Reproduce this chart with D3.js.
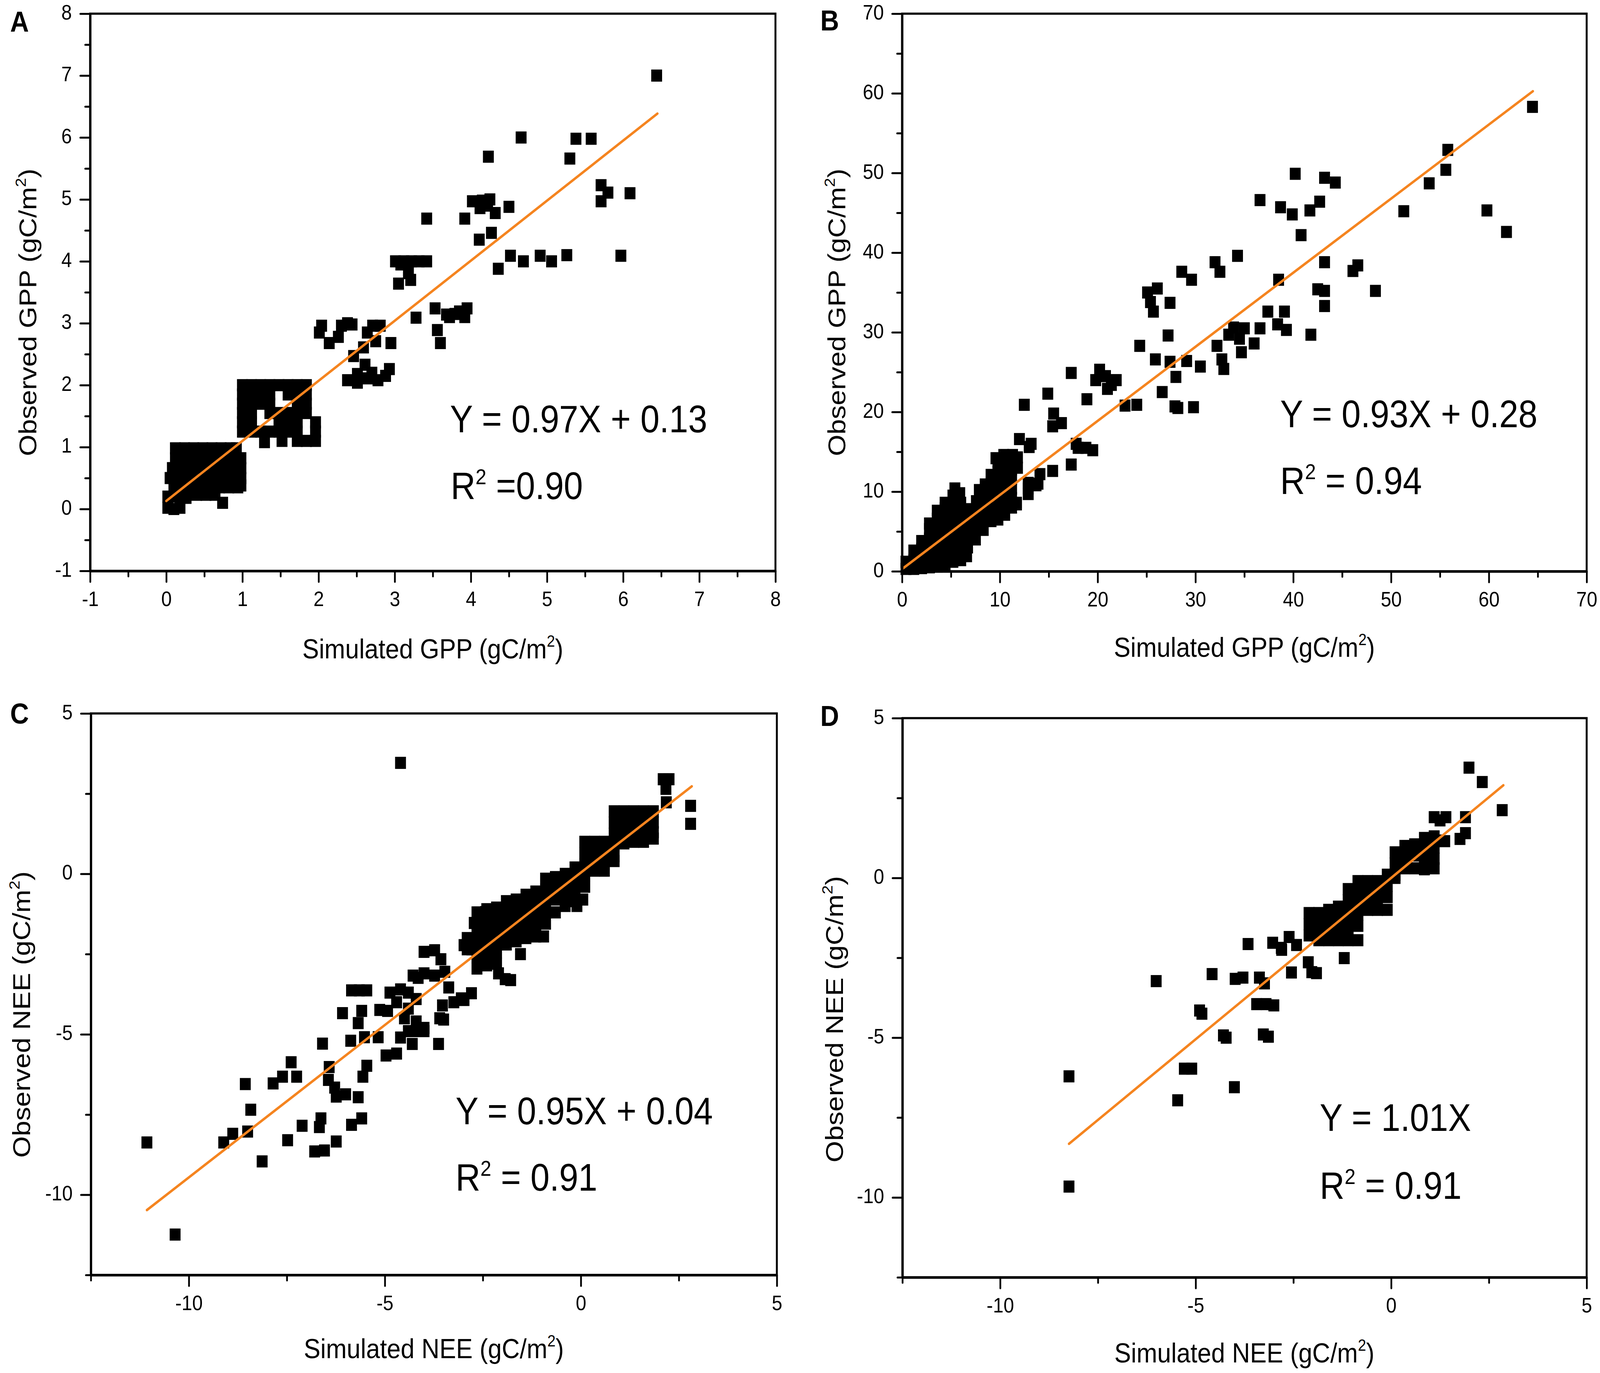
<!DOCTYPE html>
<html>
<head>
<meta charset="utf-8">
<script src="https://cdn.jsdelivr.net/npm/d3@7"></script>
<style>
  html, body { margin: 0; padding: 0; background: #fff; overflow: hidden; }
  svg { display: block; }
</style>
</head>
<body>
<div id="chart"></div>
<script>
// ---------- data ----------

// panel A: simulated vs observed GPP, site 1
var gppA_points = [
  [6.44,7.0],[4.66,6.0],[5.38,5.98],[5.58,5.98],[4.23,5.69],[5.30,5.66],[5.71,5.23],[5.80,5.11],[5.71,4.97],[6.09,5.10],
  [5.97,4.09],[5.26,4.10],[5.06,4.0],[4.91,4.09],[4.69,4.0],[4.52,4.09],[4.36,3.88],[4.50,4.88],[4.27,4.46],[4.11,4.35],
  [3.92,4.69],[3.42,4.69],[4.02,4.97],[4.15,4.98],[4.22,4.90],[4.32,4.78],[4.12,4.86],[4.25,5.0],
  [3.01,4.0],[3.12,4.0],[3.22,4.0],[3.32,4.0],[3.42,4.0],[3.08,3.95],[3.18,3.81],[3.21,3.70],[3.05,3.64],[3.28,3.09],
  [3.53,3.24],[3.56,2.89],[3.60,2.68],[3.72,3.10],[3.85,3.19],[3.95,3.24],[3.92,3.10],[3.79,3.15],[3.68,3.14],
  [2.04,2.96],[2.01,2.85],[2.14,2.68],[2.26,2.78],[2.30,2.96],[2.44,2.98],[2.64,2.85],[2.71,2.96],[2.81,2.96],
  [2.75,2.71],[2.95,2.68],[2.59,2.61],[2.46,2.47],[2.38,3.0],
  [2.38,2.08],[2.51,2.18],[2.61,2.33],[2.64,2.11],[2.78,2.08],[2.88,2.15],[2.93,2.26],[2.51,2.04],[2.70,2.20],
  [1.0,2.0],[1.12,2.0],[1.24,2.0],[1.36,2.0],[1.48,2.0],[1.6,2.0],[1.72,2.0],[1.84,2.0],
  [1.0,1.85],[1.12,1.85],[1.24,1.85],[1.36,1.85],[1.6,1.85],[1.72,1.85],[1.84,1.85],
  [1.0,1.7],[1.12,1.7],[1.24,1.7],[1.36,1.7],[1.72,1.7],[1.84,1.7],
  [1.0,1.55],[1.12,1.55],[1.36,1.55],[1.48,1.55],[1.6,1.55],[1.72,1.55],[1.84,1.55],
  [1.0,1.4],[1.12,1.4],[1.48,1.4],[1.6,1.4],[1.72,1.4],[1.96,1.4],
  [1.0,1.25],[1.12,1.25],[1.24,1.25],[1.36,1.25],[1.48,1.25],[1.6,1.25],[1.72,1.25],[1.96,1.25],
  [1.29,1.08],[1.52,1.1],[1.72,1.1],[1.84,1.1],[1.96,1.1],
  [0.12,0.98],[0.24,0.98],[0.36,0.98],[0.48,0.98],[0.6,0.98],[0.72,0.98],[0.84,0.98],[0.92,0.98],
  [0.12,0.82],[0.24,0.82],[0.36,0.82],[0.48,0.82],[0.6,0.82],[0.72,0.82],[0.84,0.82],[0.98,0.82],
  [0.08,0.66],[0.2,0.66],[0.32,0.66],[0.44,0.66],[0.56,0.66],[0.68,0.66],[0.8,0.66],[0.92,0.66],[0.98,0.66],
  [0.05,0.5],[0.17,0.5],[0.29,0.5],[0.41,0.5],[0.53,0.5],[0.65,0.5],[0.77,0.5],[0.89,0.5],[0.98,0.5],
  [0.1,0.35],[0.22,0.35],[0.34,0.35],[0.46,0.35],[0.58,0.35],[0.7,0.35],[0.82,0.35],[0.94,0.35],[0.98,0.38],
  [0.02,0.2],[0.12,0.2],[0.26,0.18],[0.4,0.23],[0.52,0.23],[0.64,0.23],[0.74,0.1],
  [0.02,0.02],[0.1,0.0],[0.18,0.02]
];

// panel B: simulated vs observed GPP, site 2
var gppB_points = [
  [64.46,58.3],[55.8,52.9],[55.6,50.4],[53.9,48.7],[51.3,45.2],[59.8,45.3],[61.8,42.6],[40.2,49.9],[43.2,49.4],[44.3,48.8],
  [36.6,46.6],[38.7,45.7],[39.9,44.8],[41.7,45.3],[42.7,46.4],[40.8,42.2],[34.3,39.6],[32.0,38.8],[32.5,37.6],[28.6,37.6],
  [29.6,36.6],[38.5,36.6],[43.2,38.8],[46.1,37.7],[46.6,38.4],[48.4,35.2],[42.5,35.4],[43.2,35.2],[43.2,33.3],[25.1,35.0],
  [26.1,35.5],[25.4,33.8],[25.7,32.6],[27.4,33.7],[37.4,32.6],[39.1,32.6],[27.2,29.6],[24.3,28.3],[25.9,26.6],[27.4,26.3],
  [29.1,26.4],[30.5,25.7],[32.2,28.3],[32.7,26.6],[32.9,25.4],[33.4,29.7],[33.9,30.6],[34.5,29.2],[34.7,27.5],[35.0,30.5],
  [36.0,28.6],[36.6,30.5],[38.4,31.0],[39.3,30.3],[41.8,29.7],[26.6,22.5],[28.0,24.4],[27.9,20.7],[29.8,20.6],[28.2,20.5],
  [22.8,20.8],[24.0,20.9],[18.9,21.6],[17.3,24.9],[20.2,25.3],[20.8,24.5],[19.8,24.0],[21.4,23.4],[21.9,24.0],[21.0,22.9],
  [14.9,22.3],[12.5,20.9],[15.5,19.8],[16.3,18.6],[15.4,18.2],[17.3,13.4],[18.0,15.5],[19.5,15.2],[18.8,15.5],[17.8,16.0],
  [15.4,12.6],[14.1,12.2],[13.7,10.8],[12.9,9.7],[12.9,11.1],[12.0,16.6],[13.0,15.6],[11.7,8.6],[12.9,10.4],[13.9,11.0],
  [13.2,16.0],
  [0.4,0.3],[0.4,1.2],
  [1.2,0.3],[1.2,1.4],[1.2,2.6],
  [2.0,0.4],[2.0,1.6],[2.0,2.8],[2.0,3.8],
  [2.8,0.5],[2.8,1.7],[2.8,2.9],[2.8,4.1],[2.8,5.3],[2.8,6.0],
  [3.6,0.6],[3.6,1.8],[3.6,3.0],[3.6,4.2],[3.6,5.4],[3.6,6.6],[3.6,7.6],
  [4.4,0.7],[4.4,1.9],[4.4,3.1],[4.4,4.3],[4.4,5.5],[4.4,6.7],[4.4,7.9],[4.4,8.6],
  [5.2,1.2],[5.2,2.3],[5.2,3.5],[5.2,4.7],[5.2,5.9],[5.2,7.1],[5.2,8.3],[5.2,9.5],[5.4,10.4],
  [6.0,1.4],[6.0,2.6],[6.0,3.8],[6.0,5.0],[6.0,6.2],[6.0,7.4],[6.0,8.6],[5.9,9.8],
  [6.6,1.9],[6.7,3.0],[6.7,4.2],[6.7,5.4],[6.7,6.6],[6.7,7.8],
  [7.5,4.0],[7.5,5.2],[7.5,6.4],[7.5,7.6],[7.6,8.8],[7.9,10.2],
  [8.3,5.2],[8.3,6.4],[8.3,7.6],[8.3,8.8],[8.4,10.0],[8.5,10.9],
  [9.1,6.3],[9.1,7.5],[9.1,8.7],[9.1,9.9],[9.1,11.1],[9.1,12.1],
  [9.8,6.5],[9.8,7.7],[9.8,8.9],[9.8,10.1],[9.8,11.3],[9.8,12.5],[9.8,13.7],[9.6,14.2],
  [10.5,7.1],[10.5,8.3],[10.5,9.5],[10.5,10.7],[10.5,11.9],[10.5,13.1],[10.5,14.3],[10.4,14.6],
  [11.2,8.0],[11.2,9.2],[11.2,10.4],[11.2,11.6],[11.2,12.8],[11.2,14.0],[11.3,14.6],
  [11.7,8.4],[11.8,13.0],[11.8,14.3]
];

// panel C: simulated vs observed NEE, site 1
var neeC_points = [
  [-11.07,-8.37],[-10.35,-11.24],[-9.11,-8.37],[-8.88,-8.10],[-8.5,-8.03],[-8.56,-6.55],[-8.42,-7.35],[-8.13,-8.96],
  [-7.85,-6.53],[-7.61,-6.32],[-7.39,-5.87],[-7.25,-6.32],[-7.48,-8.30],[-7.11,-7.85],[-6.67,-7.89],[-6.63,-7.62],
  [-6.79,-8.65],[-6.54,-8.62],[-6.24,-8.34],[-6.59,-5.29],[-6.42,-6.02],[-6.44,-6.42],[-6.28,-6.66],[-6.24,-6.94],
  [-6.0,-6.87],[-5.85,-7.82],[-5.68,-6.96],[-5.59,-7.62],[-5.56,-6.32],[-5.46,-5.98],[-5.87,-5.20],[-5.68,-4.65],
  [-5.52,-5.09],[-5.59,-4.27],[-6.08,-4.34],[-5.85,-3.63],[-5.65,-3.63],[-5.46,-3.63],[-5.17,-5.09],[-5.13,-4.24],
  [-4.93,-4.27],[-4.97,-5.66],[-4.7,-5.6],[-4.6,-5.1],[-4.4,-4.9],[-4.2,-4.9],[-4.0,-4.8],[-4.3,-5.3],[-4.5,-4.5],
  [-4.87,-3.7],[-4.6,-3.6],[-4.4,-3.7],[-4.2,-3.9],[-4.4,-4.2],[-4.7,-4.0],[-4.6,3.46],[-4.15,-3.24],[-4.28,-3.17],
  [-4.0,-2.43],[-3.73,-2.38],[-3.57,-2.66],[-4.0,-3.1],[-3.73,-3.17],[-3.47,-3.05],[-3.37,-3.54],[-2.79,-3.72],
  [-3.05,-3.88],[-3.53,-4.1],[-3.6,-4.5],[-4.0,-4.9],[-3.63,-5.3],[-4.2,-4.6],[-3.5,-4.54],[-3.24,-4.0],[-2.98,-3.93],
  [-2.98,-2.22],[-2.78,-2.35],[-2.72,-1.53],[-2.43,-1.19],[-2.26,-1.46],[-1.93,-3.28],
  [-2.9,-2.0],[-2.9,-2.35],
  [-2.65,-1.2],[-2.65,-1.55],[-2.65,-1.9],[-2.65,-2.25],[-2.65,-2.6],[-2.65,-2.95],
  [-2.4,-1.1],[-2.4,-1.45],[-2.4,-1.8],[-2.4,-2.15],[-2.4,-2.5],[-2.4,-2.85],
  [-2.15,-1.05],[-2.15,-1.4],[-2.15,-1.75],[-2.15,-2.1],[-2.15,-2.45],[-2.15,-2.8],[-2.1,-3.1],
  [-1.9,-0.85],[-1.9,-1.2],[-1.9,-1.55],[-1.9,-1.9],[-1.9,-2.2],[-1.79,-3.31],
  [-1.65,-0.8],[-1.65,-1.15],[-1.65,-1.5],[-1.65,-1.85],[-1.65,-2.1],[-1.54,-2.5],
  [-1.4,-0.65],[-1.4,-1.0],[-1.4,-1.35],[-1.4,-1.7],[-1.4,-2.0],
  [-1.15,-0.55],[-1.15,-0.9],[-1.15,-1.25],[-1.15,-1.6],[-1.15,-1.95],
  [-0.9,-0.15],[-0.9,-0.5],[-0.9,-0.85],[-0.9,-1.2],[-0.9,-1.55],[-0.95,-1.95],
  [-0.65,-0.1],[-0.65,-0.45],[-0.65,-0.8],[-0.65,-1.2],
  [-0.4,0.0],[-0.4,-0.35],[-0.4,-0.7],[-0.4,-1.0],
  [-0.15,0.2],[-0.15,-0.15],[-0.15,-0.5],[-0.15,-0.85],[-0.1,-1.0],
  [0.1,1.0],[0.1,0.65],[0.1,0.3],[0.1,-0.05],[0.1,-0.4],[0.05,-0.8],
  [0.35,1.0],[0.35,0.65],[0.35,0.3],[0.35,0.1],
  [0.6,1.0],[0.6,0.65],[0.6,0.3],[0.6,0.1],
  [0.85,1.95],[0.85,1.6],[0.85,1.25],[0.85,0.9],[0.85,0.55],[0.85,0.4],
  [1.1,1.95],[1.1,1.6],[1.1,1.25],[1.1,0.95],
  [1.35,1.95],[1.35,1.6],[1.35,1.25],[1.35,1.0],
  [1.6,1.95],[1.6,1.6],[1.6,1.3],[1.6,1.0],
  [1.85,1.95],[1.85,1.6],[1.85,1.3],[1.85,1.1],
  [2.17,2.65],[2.1,2.95],[2.25,2.95],[2.18,2.23],[2.8,2.12],[2.8,1.56]
];

// panel D: simulated vs observed NEE, site 2
var neeD_points = [
  [-8.24,-6.21],[-8.24,-9.66],[-6.01,-3.23],[-5.46,-6.96],[-5.29,-5.97],[-5.1,-5.97],[-4.9,-4.15],[-4.84,-4.25],
  [-4.58,-3.01],[-4.29,-4.93],[-4.22,-5.0],[-4.01,-6.55],[-3.99,-3.16],[-3.79,-3.12],[-3.66,-2.07],[-3.37,-3.12],
  [-3.24,-3.3],[-3.44,-3.95],[-3.2,-3.95],[-3.0,-3.99],[-3.27,-4.9],[-3.14,-4.97],[-3.03,-2.03],[-2.81,-2.19],
  [-2.61,-1.85],[-2.42,-2.1],[-2.8,-2.25],[-2.55,-2.96],[-2.12,-2.64],[-2.03,-2.95],[-1.91,-2.98],[-1.2,-2.51],
  [1.99,3.45],[2.33,3.0],[2.84,2.12],[1.1,1.9],[1.4,1.9],[1.25,1.8],[1.9,1.9],[1.9,1.4],[1.76,1.22],[1.37,1.15],[1.16,1.17],
  [-2.1,-1.1],[-2.1,-1.45],[-2.1,-1.8],
  [-1.85,-1.1],[-1.85,-1.45],[-1.85,-1.8],[-1.85,-1.95],
  [-1.6,-1.0],[-1.6,-1.35],[-1.6,-1.7],[-1.6,-1.95],
  [-1.35,-0.9],[-1.35,-1.25],[-1.35,-1.6],[-1.35,-1.95],
  [-1.1,-0.35],[-1.1,-0.7],[-1.1,-1.05],[-1.1,-1.4],[-1.1,-1.75],[-1.1,-1.95],
  [-0.85,-0.1],[-0.85,-0.45],[-0.85,-0.8],[-0.85,-1.15],[-0.85,-1.5],[-0.85,-1.95],
  [-0.6,-0.1],[-0.6,-0.45],[-0.6,-0.8],[-0.6,-1.0],
  [-0.35,-0.1],[-0.35,-0.45],[-0.35,-0.8],[-0.35,-1.0],
  [-0.1,0.1],[-0.1,-0.25],[-0.1,-0.6],[-0.1,-1.0],
  [0.1,0.8],[0.1,0.45],[0.1,0.1],[0.1,0.0],
  [0.35,1.0],[0.35,0.65],[0.35,0.3],
  [0.6,1.05],[0.6,0.7],[0.6,0.3],
  [0.85,1.25],[0.85,0.9],[0.85,0.55],[0.85,0.27],
  [1.1,1.3],[1.1,0.95],[1.1,0.6],[1.1,0.3]
];

// fitted lines: [slope, intercept, xStart, xEnd]
var fitA = [0.97, 0.13, 0, 6.45];
var fitB = [0.93, 0.28, 0, 64.5];
var fitC = [0.95, 0.04, -11.07, 2.83];
var fitD = [1.01, 0, -8.24, 2.87];

// tick values
var ticksGPP_A = [-1, 0, 1, 2, 3, 4, 5, 6, 7, 8];
var minorGPP_A = [-0.5, 0.5, 1.5, 2.5, 3.5, 4.5, 5.5, 6.5, 7.5];
var ticksGPP_B = [0, 10, 20, 30, 40, 50, 60, 70];
var minorGPP_B = [5, 15, 25, 35, 45, 55, 65];
var ticksNEE = [-10, -5, 0, 5];
var minorNEE = [-12.5, -7.5, -2.5, 2.5];

// ---------- layout (in reference pixels, stretched to the window by viewBox) ----------
var W = 4562, H = 3516;
var FONT = "'Liberation Sans', Arial, Helvetica, sans-serif";
var ORANGE = "#f5841f";
var MARK = 31;

var panels = [
  { label: "A", labelPos: [29, 81],
    box: {l: 257, r: 2211, t: 35, b: 1462},
    xDomain: [-1, 8], yDomain: [-1, 8],
    xMajor: ticksGPP_A, xMinor: minorGPP_A, yMajor: ticksGPP_A, yMinor: minorGPP_A,
    points: gppA_points, fit: fitA,
    eq: "Y = 0.97X + 0.13", eqPos: [1283, 1107],
    r2: " =0.90", r2Pos: [1285, 1278],
    xTitle: "Simulated GPP", xTitlePos: [1234, 1686],
    yTitle: "Observed GPP", yTitlePos: [104, 800] },
  { label: "B", labelPos: [2339, 78],
    box: {l: 2572, r: 4524, t: 35, b: 1463},
    xDomain: [0, 70], yDomain: [0, 70],
    xMajor: ticksGPP_B, xMinor: minorGPP_B, yMajor: ticksGPP_B, yMinor: minorGPP_B,
    points: gppB_points, fit: fitB,
    eq: "Y = 0.93X + 0.28", eqPos: [3650, 1094],
    r2: " = 0.94", r2Pos: [3650, 1265],
    xTitle: "Simulated GPP", xTitlePos: [3548, 1682],
    yTitle: "Observed GPP", yTitlePos: [2410, 800] },
  { label: "C", labelPos: [29, 1853],
    box: {l: 259, r: 2215, t: 1827, b: 3265},
    xDomain: [-12.5, 5], yDomain: [-12.5, 5],
    xMajor: ticksNEE, xMinor: minorNEE, yMajor: ticksNEE, yMinor: minorNEE,
    points: neeC_points, fit: fitC,
    eq: "Y = 0.95X + 0.04", eqPos: [1299, 2879],
    r2: " = 0.91", r2Pos: [1299, 3049],
    xTitle: "Simulated NEE", xTitlePos: [1237, 3478],
    yTitle: "Observed NEE", yTitlePos: [86, 2598] },
  { label: "D", labelPos: [2339, 1859],
    box: {l: 2573, r: 4524, t: 1839, b: 3271},
    xDomain: [-12.5, 5], yDomain: [-12.5, 5],
    xMajor: ticksNEE, xMinor: minorNEE, yMajor: ticksNEE, yMinor: minorNEE,
    points: neeD_points, fit: fitD,
    eq: "Y = 1.01X", eqPos: [3763, 2896],
    r2: " = 0.91", r2Pos: [3763, 3070],
    xTitle: "Simulated NEE", xTitlePos: [3548, 3489],
    yTitle: "Observed NEE", yTitlePos: [2403, 2610] }
];

// fill the whole window with the drawing
var vw = window.innerWidth || document.documentElement.clientWidth || W;
var vh = window.innerHeight || document.documentElement.clientHeight || H;

var svg = d3.select("#chart").append("svg")
  .attr("viewBox", "0 0 " + W + " " + H)
  .attr("preserveAspectRatio", "none")
  .attr("width", vw)
  .attr("height", vh)
  .style("background", "#fff");

panels.forEach(function(p) {
  var x = d3.scaleLinear().domain(p.xDomain).range([p.box.l, p.box.r]);
  var y = d3.scaleLinear().domain(p.yDomain).range([p.box.b, p.box.t]);
  var g = svg.append("g").attr("font-family", FONT);

  // square markers
  g.append("g").selectAll("rect")
    .data(p.points)
    .join("rect")
      .attr("x", function(d) { return x(d[0]) - MARK / 2; })
      .attr("y", function(d) { return y(d[1]) - MARK / 2; })
      .attr("width", MARK)
      .attr("height", MARK)
      .attr("fill", "#000");

  // regression line
  var f = p.fit;
  g.append("line")
    .attr("x1", x(f[2])).attr("y1", y(f[0] * f[2] + f[1]))
    .attr("x2", x(f[3])).attr("y2", y(f[0] * f[3] + f[1]))
    .attr("stroke", ORANGE)
    .attr("stroke-width", 6.5)
    .attr("stroke-linecap", "round");

  // frame (top and right sides)
  g.append("rect")
    .attr("x", p.box.l).attr("y", p.box.t)
    .attr("width", p.box.r - p.box.l).attr("height", p.box.b - p.box.t)
    .attr("fill", "none").attr("stroke", "#000").attr("stroke-width", 5.5);

  // axes
  var xAxis = g.append("g")
    .attr("transform", "translate(0," + p.box.b + ")")
    .call(d3.axisBottom(x).tickValues(p.xMajor).tickFormat(function(d) { return String(d); })
      .tickSize(28).tickPadding(24).tickSizeOuter(0));
  xAxis.append("g")
    .call(d3.axisBottom(x).tickValues(p.xMinor).tickFormat("").tickSize(14).tickSizeOuter(0))
    .call(function(s) { s.select(".domain").remove(); });

  var yAxis = g.append("g")
    .attr("transform", "translate(" + p.box.l + ",0)")
    .call(d3.axisLeft(y).tickValues(p.yMajor).tickFormat(function(d) { return String(d); })
      .tickSize(28).tickPadding(24).tickSizeOuter(0));
  yAxis.append("g")
    .call(d3.axisLeft(y).tickValues(p.yMinor).tickFormat("").tickSize(14).tickSizeOuter(0))
    .call(function(s) { s.select(".domain").remove(); });

  [xAxis, yAxis].forEach(function(a) {
    a.attr("font-family", FONT).attr("font-size", 54);
    a.selectAll("line").attr("stroke", "#000").attr("stroke-width", 5).attr("stroke-linecap", "round");
    a.selectAll("path").attr("stroke", "#000").attr("stroke-width", 6.5);
    a.selectAll("text").attr("fill", "#000");
  });
  yAxis.selectAll(".tick text").attr("dy", "0.26em");

  // panel letter
  g.append("text")
    .attr("x", p.labelPos[0]).attr("y", p.labelPos[1])
    .attr("font-size", 74).attr("font-weight", "bold")
    .text(p.label);

  // equation and R2
  g.append("text")
    .attr("x", p.eqPos[0]).attr("y", p.eqPos[1])
    .attr("font-size", 98)
    .text(p.eq);
  var r = g.append("text")
    .attr("x", p.r2Pos[0]).attr("y", p.r2Pos[1])
    .attr("font-size", 98);
  r.append("tspan").text("R");
  r.append("tspan").attr("font-size", 56).attr("dy", -38).text("2");
  r.append("tspan").attr("dy", 38).text(p.r2);

  // x title
  var xt = g.append("text")
    .attr("x", p.xTitlePos[0]).attr("y", p.xTitlePos[1])
    .attr("text-anchor", "middle").attr("font-size", 71);
  xt.append("tspan").text(p.xTitle + " (gC/m");
  xt.append("tspan").attr("font-size", 42).attr("dy", -30).text("2");
  xt.append("tspan").attr("dy", 30).text(")");

  // y title
  var yt = g.append("text")
    .attr("transform", "translate(" + p.yTitlePos[0] + "," + p.yTitlePos[1] + ") rotate(-90)")
    .attr("text-anchor", "middle").attr("font-size", 71);
  yt.append("tspan").text(p.yTitle + " (gC/m");
  yt.append("tspan").attr("font-size", 42).attr("dy", -30).text("2");
  yt.append("tspan").attr("dy", 30).text(")");
});
</script>
</body>
</html>
